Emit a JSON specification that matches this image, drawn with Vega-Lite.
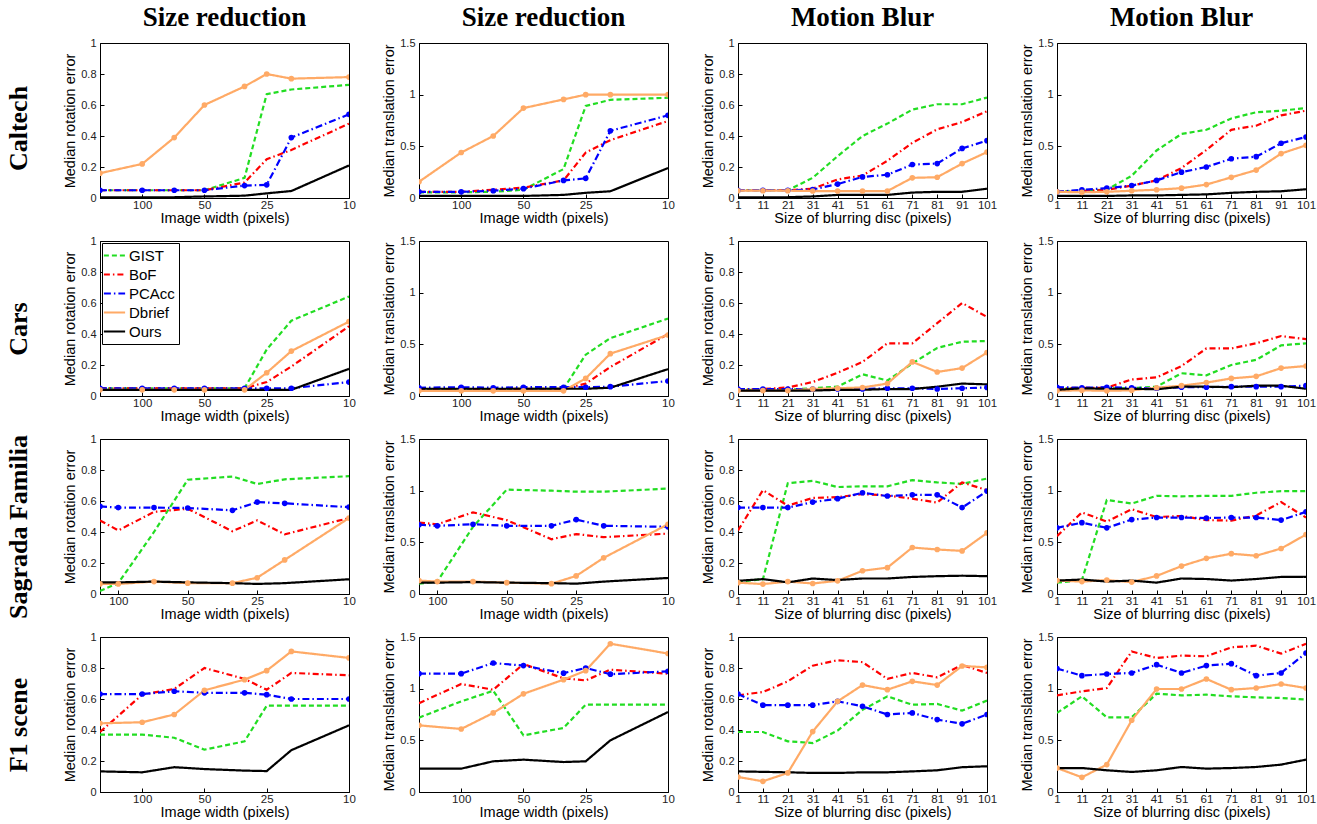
{
"$schema": "https://vega.github.io/schema/vega-lite/v6.json",
"background": "white",
"padding": {"left": 6, "top": 3, "right": 0, "bottom": 0},
"data": {"values": [
{"p":"11","m":"GIST","x":160,"y":0.05},{"p":"11","m":"GIST","x":100,"y":0.05},{"p":"11","m":"GIST","x":70,"y":0.05},{"p":"11","m":"GIST","x":50,"y":0.05},{"p":"11","m":"GIST","x":32,"y":0.13},{"p":"11","m":"GIST","x":25,"y":0.67},{"p":"11","m":"GIST","x":19,"y":0.70},{"p":"11","m":"GIST","x":10,"y":0.73},
{"p":"11","m":"BoF","x":160,"y":0.05},{"p":"11","m":"BoF","x":100,"y":0.05},{"p":"11","m":"BoF","x":70,"y":0.05},{"p":"11","m":"BoF","x":50,"y":0.05},{"p":"11","m":"BoF","x":32,"y":0.10},{"p":"11","m":"BoF","x":25,"y":0.25},{"p":"11","m":"BoF","x":19,"y":0.31},{"p":"11","m":"BoF","x":10,"y":0.48},
{"p":"11","m":"PCAcc","x":160,"y":0.05},{"p":"11","m":"PCAcc","x":100,"y":0.05},{"p":"11","m":"PCAcc","x":70,"y":0.05},{"p":"11","m":"PCAcc","x":50,"y":0.05},{"p":"11","m":"PCAcc","x":32,"y":0.08},{"p":"11","m":"PCAcc","x":25,"y":0.085},{"p":"11","m":"PCAcc","x":19,"y":0.39},{"p":"11","m":"PCAcc","x":10,"y":0.54},
{"p":"11","m":"Dbrief","x":160,"y":0.16},{"p":"11","m":"Dbrief","x":100,"y":0.22},{"p":"11","m":"Dbrief","x":70,"y":0.39},{"p":"11","m":"Dbrief","x":50,"y":0.60},{"p":"11","m":"Dbrief","x":32,"y":0.72},{"p":"11","m":"Dbrief","x":25,"y":0.80},{"p":"11","m":"Dbrief","x":19,"y":0.77},{"p":"11","m":"Dbrief","x":10,"y":0.78},
{"p":"11","m":"Ours","x":160,"y":0.005},{"p":"11","m":"Ours","x":100,"y":0.005},{"p":"11","m":"Ours","x":70,"y":0.005},{"p":"11","m":"Ours","x":50,"y":0.01},{"p":"11","m":"Ours","x":32,"y":0.015},{"p":"11","m":"Ours","x":25,"y":0.03},{"p":"11","m":"Ours","x":19,"y":0.045},{"p":"11","m":"Ours","x":10,"y":0.21},

{"p":"12","m":"GIST","x":160,"y":0.055},{"p":"12","m":"GIST","x":100,"y":0.055},{"p":"12","m":"GIST","x":70,"y":0.06},{"p":"12","m":"GIST","x":50,"y":0.08},{"p":"12","m":"GIST","x":32,"y":0.28},{"p":"12","m":"GIST","x":25,"y":0.89},{"p":"12","m":"GIST","x":19,"y":0.95},{"p":"12","m":"GIST","x":10,"y":0.97},
{"p":"12","m":"BoF","x":160,"y":0.06},{"p":"12","m":"BoF","x":100,"y":0.06},{"p":"12","m":"BoF","x":70,"y":0.08},{"p":"12","m":"BoF","x":50,"y":0.10},{"p":"12","m":"BoF","x":32,"y":0.17},{"p":"12","m":"BoF","x":25,"y":0.44},{"p":"12","m":"BoF","x":19,"y":0.56},{"p":"12","m":"BoF","x":10,"y":0.745},
{"p":"12","m":"PCAcc","x":160,"y":0.06},{"p":"12","m":"PCAcc","x":100,"y":0.06},{"p":"12","m":"PCAcc","x":70,"y":0.07},{"p":"12","m":"PCAcc","x":50,"y":0.09},{"p":"12","m":"PCAcc","x":32,"y":0.17},{"p":"12","m":"PCAcc","x":25,"y":0.19},{"p":"12","m":"PCAcc","x":19,"y":0.65},{"p":"12","m":"PCAcc","x":10,"y":0.80},
{"p":"12","m":"Dbrief","x":160,"y":0.157},{"p":"12","m":"Dbrief","x":100,"y":0.44},{"p":"12","m":"Dbrief","x":70,"y":0.60},{"p":"12","m":"Dbrief","x":50,"y":0.87},{"p":"12","m":"Dbrief","x":32,"y":0.954},{"p":"12","m":"Dbrief","x":25,"y":1.0},{"p":"12","m":"Dbrief","x":19,"y":1.0},{"p":"12","m":"Dbrief","x":10,"y":1.0},
{"p":"12","m":"Ours","x":160,"y":0.02},{"p":"12","m":"Ours","x":100,"y":0.02},{"p":"12","m":"Ours","x":70,"y":0.02},{"p":"12","m":"Ours","x":50,"y":0.02},{"p":"12","m":"Ours","x":32,"y":0.03},{"p":"12","m":"Ours","x":25,"y":0.05},{"p":"12","m":"Ours","x":19,"y":0.065},{"p":"12","m":"Ours","x":10,"y":0.29},

{"p":"13","m":"GIST","x":1,"y":0.05},{"p":"13","m":"GIST","x":11,"y":0.05},{"p":"13","m":"GIST","x":21,"y":0.05},{"p":"13","m":"GIST","x":31,"y":0.13},{"p":"13","m":"GIST","x":41,"y":0.27},{"p":"13","m":"GIST","x":51,"y":0.40},{"p":"13","m":"GIST","x":61,"y":0.48},{"p":"13","m":"GIST","x":71,"y":0.57},{"p":"13","m":"GIST","x":81,"y":0.605},{"p":"13","m":"GIST","x":91,"y":0.605},{"p":"13","m":"GIST","x":101,"y":0.648},
{"p":"13","m":"BoF","x":1,"y":0.05},{"p":"13","m":"BoF","x":11,"y":0.05},{"p":"13","m":"BoF","x":21,"y":0.05},{"p":"13","m":"BoF","x":31,"y":0.06},{"p":"13","m":"BoF","x":41,"y":0.12},{"p":"13","m":"BoF","x":51,"y":0.145},{"p":"13","m":"BoF","x":61,"y":0.24},{"p":"13","m":"BoF","x":71,"y":0.356},{"p":"13","m":"BoF","x":81,"y":0.443},{"p":"13","m":"BoF","x":91,"y":0.49},{"p":"13","m":"BoF","x":101,"y":0.56},
{"p":"13","m":"PCAcc","x":1,"y":0.05},{"p":"13","m":"PCAcc","x":11,"y":0.05},{"p":"13","m":"PCAcc","x":21,"y":0.05},{"p":"13","m":"PCAcc","x":31,"y":0.055},{"p":"13","m":"PCAcc","x":41,"y":0.09},{"p":"13","m":"PCAcc","x":51,"y":0.136},{"p":"13","m":"PCAcc","x":61,"y":0.15},{"p":"13","m":"PCAcc","x":71,"y":0.216},{"p":"13","m":"PCAcc","x":81,"y":0.222},{"p":"13","m":"PCAcc","x":91,"y":0.32},{"p":"13","m":"PCAcc","x":101,"y":0.37},
{"p":"13","m":"Dbrief","x":1,"y":0.047},{"p":"13","m":"Dbrief","x":11,"y":0.047},{"p":"13","m":"Dbrief","x":21,"y":0.047},{"p":"13","m":"Dbrief","x":31,"y":0.045},{"p":"13","m":"Dbrief","x":41,"y":0.045},{"p":"13","m":"Dbrief","x":51,"y":0.045},{"p":"13","m":"Dbrief","x":61,"y":0.045},{"p":"13","m":"Dbrief","x":71,"y":0.13},{"p":"13","m":"Dbrief","x":81,"y":0.134},{"p":"13","m":"Dbrief","x":91,"y":0.222},{"p":"13","m":"Dbrief","x":101,"y":0.296},
{"p":"13","m":"Ours","x":1,"y":0.005},{"p":"13","m":"Ours","x":11,"y":0.005},{"p":"13","m":"Ours","x":21,"y":0.005},{"p":"13","m":"Ours","x":31,"y":0.01},{"p":"13","m":"Ours","x":41,"y":0.02},{"p":"13","m":"Ours","x":51,"y":0.02},{"p":"13","m":"Ours","x":61,"y":0.02},{"p":"13","m":"Ours","x":71,"y":0.035},{"p":"13","m":"Ours","x":81,"y":0.04},{"p":"13","m":"Ours","x":91,"y":0.04},{"p":"13","m":"Ours","x":101,"y":0.06},

{"p":"14","m":"GIST","x":1,"y":0.06},{"p":"14","m":"GIST","x":11,"y":0.07},{"p":"14","m":"GIST","x":21,"y":0.08},{"p":"14","m":"GIST","x":31,"y":0.215},{"p":"14","m":"GIST","x":41,"y":0.46},{"p":"14","m":"GIST","x":51,"y":0.62},{"p":"14","m":"GIST","x":61,"y":0.66},{"p":"14","m":"GIST","x":71,"y":0.77},{"p":"14","m":"GIST","x":81,"y":0.83},{"p":"14","m":"GIST","x":91,"y":0.845},{"p":"14","m":"GIST","x":101,"y":0.87},
{"p":"14","m":"BoF","x":1,"y":0.06},{"p":"14","m":"BoF","x":11,"y":0.065},{"p":"14","m":"BoF","x":21,"y":0.08},{"p":"14","m":"BoF","x":31,"y":0.12},{"p":"14","m":"BoF","x":41,"y":0.17},{"p":"14","m":"BoF","x":51,"y":0.29},{"p":"14","m":"BoF","x":61,"y":0.465},{"p":"14","m":"BoF","x":71,"y":0.66},{"p":"14","m":"BoF","x":81,"y":0.70},{"p":"14","m":"BoF","x":91,"y":0.80},{"p":"14","m":"BoF","x":101,"y":0.845},
{"p":"14","m":"PCAcc","x":1,"y":0.06},{"p":"14","m":"PCAcc","x":11,"y":0.08},{"p":"14","m":"PCAcc","x":21,"y":0.095},{"p":"14","m":"PCAcc","x":31,"y":0.12},{"p":"14","m":"PCAcc","x":41,"y":0.17},{"p":"14","m":"PCAcc","x":51,"y":0.25},{"p":"14","m":"PCAcc","x":61,"y":0.30},{"p":"14","m":"PCAcc","x":71,"y":0.38},{"p":"14","m":"PCAcc","x":81,"y":0.40},{"p":"14","m":"PCAcc","x":91,"y":0.53},{"p":"14","m":"PCAcc","x":101,"y":0.59},
{"p":"14","m":"Dbrief","x":1,"y":0.06},{"p":"14","m":"Dbrief","x":11,"y":0.055},{"p":"14","m":"Dbrief","x":21,"y":0.06},{"p":"14","m":"Dbrief","x":31,"y":0.07},{"p":"14","m":"Dbrief","x":41,"y":0.08},{"p":"14","m":"Dbrief","x":51,"y":0.095},{"p":"14","m":"Dbrief","x":61,"y":0.13},{"p":"14","m":"Dbrief","x":71,"y":0.20},{"p":"14","m":"Dbrief","x":81,"y":0.27},{"p":"14","m":"Dbrief","x":91,"y":0.43},{"p":"14","m":"Dbrief","x":101,"y":0.51},
{"p":"14","m":"Ours","x":1,"y":0.02},{"p":"14","m":"Ours","x":11,"y":0.02},{"p":"14","m":"Ours","x":21,"y":0.02},{"p":"14","m":"Ours","x":31,"y":0.025},{"p":"14","m":"Ours","x":41,"y":0.025},{"p":"14","m":"Ours","x":51,"y":0.03},{"p":"14","m":"Ours","x":61,"y":0.035},{"p":"14","m":"Ours","x":71,"y":0.05},{"p":"14","m":"Ours","x":81,"y":0.06},{"p":"14","m":"Ours","x":91,"y":0.065},{"p":"14","m":"Ours","x":101,"y":0.085},

{"p":"21","m":"GIST","x":160,"y":0.05},{"p":"21","m":"GIST","x":100,"y":0.05},{"p":"21","m":"GIST","x":70,"y":0.05},{"p":"21","m":"GIST","x":50,"y":0.05},{"p":"21","m":"GIST","x":32,"y":0.05},{"p":"21","m":"GIST","x":25,"y":0.30},{"p":"21","m":"GIST","x":19,"y":0.486},{"p":"21","m":"GIST","x":10,"y":0.642},
{"p":"21","m":"BoF","x":160,"y":0.05},{"p":"21","m":"BoF","x":100,"y":0.05},{"p":"21","m":"BoF","x":70,"y":0.05},{"p":"21","m":"BoF","x":50,"y":0.05},{"p":"21","m":"BoF","x":32,"y":0.05},{"p":"21","m":"BoF","x":25,"y":0.09},{"p":"21","m":"BoF","x":19,"y":0.19},{"p":"21","m":"BoF","x":10,"y":0.45},
{"p":"21","m":"PCAcc","x":160,"y":0.05},{"p":"21","m":"PCAcc","x":100,"y":0.05},{"p":"21","m":"PCAcc","x":70,"y":0.05},{"p":"21","m":"PCAcc","x":50,"y":0.05},{"p":"21","m":"PCAcc","x":32,"y":0.05},{"p":"21","m":"PCAcc","x":25,"y":0.05},{"p":"21","m":"PCAcc","x":19,"y":0.05},{"p":"21","m":"PCAcc","x":10,"y":0.09},
{"p":"21","m":"Dbrief","x":160,"y":0.04},{"p":"21","m":"Dbrief","x":100,"y":0.04},{"p":"21","m":"Dbrief","x":70,"y":0.04},{"p":"21","m":"Dbrief","x":50,"y":0.04},{"p":"21","m":"Dbrief","x":32,"y":0.04},{"p":"21","m":"Dbrief","x":25,"y":0.15},{"p":"21","m":"Dbrief","x":19,"y":0.29},{"p":"21","m":"Dbrief","x":10,"y":0.48},
{"p":"21","m":"Ours","x":160,"y":0.04},{"p":"21","m":"Ours","x":100,"y":0.04},{"p":"21","m":"Ours","x":70,"y":0.04},{"p":"21","m":"Ours","x":50,"y":0.04},{"p":"21","m":"Ours","x":32,"y":0.04},{"p":"21","m":"Ours","x":25,"y":0.04},{"p":"21","m":"Ours","x":19,"y":0.04},{"p":"21","m":"Ours","x":10,"y":0.175},

{"p":"22","m":"GIST","x":160,"y":0.06},{"p":"22","m":"GIST","x":100,"y":0.065},{"p":"22","m":"GIST","x":70,"y":0.065},{"p":"22","m":"GIST","x":50,"y":0.07},{"p":"22","m":"GIST","x":32,"y":0.07},{"p":"22","m":"GIST","x":25,"y":0.40},{"p":"22","m":"GIST","x":19,"y":0.56},{"p":"22","m":"GIST","x":10,"y":0.75},
{"p":"22","m":"BoF","x":160,"y":0.06},{"p":"22","m":"BoF","x":100,"y":0.06},{"p":"22","m":"BoF","x":70,"y":0.065},{"p":"22","m":"BoF","x":50,"y":0.07},{"p":"22","m":"BoF","x":32,"y":0.07},{"p":"22","m":"BoF","x":25,"y":0.12},{"p":"22","m":"BoF","x":19,"y":0.28},{"p":"22","m":"BoF","x":10,"y":0.60},
{"p":"22","m":"PCAcc","x":160,"y":0.08},{"p":"22","m":"PCAcc","x":100,"y":0.085},{"p":"22","m":"PCAcc","x":70,"y":0.08},{"p":"22","m":"PCAcc","x":50,"y":0.085},{"p":"22","m":"PCAcc","x":32,"y":0.085},{"p":"22","m":"PCAcc","x":25,"y":0.085},{"p":"22","m":"PCAcc","x":19,"y":0.09},{"p":"22","m":"PCAcc","x":10,"y":0.145},
{"p":"22","m":"Dbrief","x":160,"y":0.05},{"p":"22","m":"Dbrief","x":100,"y":0.05},{"p":"22","m":"Dbrief","x":70,"y":0.05},{"p":"22","m":"Dbrief","x":50,"y":0.05},{"p":"22","m":"Dbrief","x":32,"y":0.05},{"p":"22","m":"Dbrief","x":25,"y":0.17},{"p":"22","m":"Dbrief","x":19,"y":0.41},{"p":"22","m":"Dbrief","x":10,"y":0.59},
{"p":"22","m":"Ours","x":160,"y":0.07},{"p":"22","m":"Ours","x":100,"y":0.07},{"p":"22","m":"Ours","x":70,"y":0.07},{"p":"22","m":"Ours","x":50,"y":0.07},{"p":"22","m":"Ours","x":32,"y":0.07},{"p":"22","m":"Ours","x":25,"y":0.07},{"p":"22","m":"Ours","x":19,"y":0.08},{"p":"22","m":"Ours","x":10,"y":0.26},

{"p":"23","m":"GIST","x":1,"y":0.04},{"p":"23","m":"GIST","x":11,"y":0.04},{"p":"23","m":"GIST","x":21,"y":0.04},{"p":"23","m":"GIST","x":31,"y":0.05},{"p":"23","m":"GIST","x":41,"y":0.06},{"p":"23","m":"GIST","x":51,"y":0.14},{"p":"23","m":"GIST","x":61,"y":0.10},{"p":"23","m":"GIST","x":71,"y":0.21},{"p":"23","m":"GIST","x":81,"y":0.31},{"p":"23","m":"GIST","x":91,"y":0.35},{"p":"23","m":"GIST","x":101,"y":0.355},
{"p":"23","m":"BoF","x":1,"y":0.04},{"p":"23","m":"BoF","x":11,"y":0.045},{"p":"23","m":"BoF","x":21,"y":0.055},{"p":"23","m":"BoF","x":31,"y":0.09},{"p":"23","m":"BoF","x":41,"y":0.15},{"p":"23","m":"BoF","x":51,"y":0.22},{"p":"23","m":"BoF","x":61,"y":0.34},{"p":"23","m":"BoF","x":71,"y":0.34},{"p":"23","m":"BoF","x":81,"y":0.47},{"p":"23","m":"BoF","x":91,"y":0.60},{"p":"23","m":"BoF","x":101,"y":0.51},
{"p":"23","m":"PCAcc","x":1,"y":0.045},{"p":"23","m":"PCAcc","x":11,"y":0.045},{"p":"23","m":"PCAcc","x":21,"y":0.045},{"p":"23","m":"PCAcc","x":31,"y":0.045},{"p":"23","m":"PCAcc","x":41,"y":0.045},{"p":"23","m":"PCAcc","x":51,"y":0.045},{"p":"23","m":"PCAcc","x":61,"y":0.05},{"p":"23","m":"PCAcc","x":71,"y":0.05},{"p":"23","m":"PCAcc","x":81,"y":0.045},{"p":"23","m":"PCAcc","x":91,"y":0.05},{"p":"23","m":"PCAcc","x":101,"y":0.055},
{"p":"23","m":"Dbrief","x":1,"y":0.035},{"p":"23","m":"Dbrief","x":11,"y":0.035},{"p":"23","m":"Dbrief","x":21,"y":0.035},{"p":"23","m":"Dbrief","x":31,"y":0.045},{"p":"23","m":"Dbrief","x":41,"y":0.05},{"p":"23","m":"Dbrief","x":51,"y":0.055},{"p":"23","m":"Dbrief","x":61,"y":0.08},{"p":"23","m":"Dbrief","x":71,"y":0.22},{"p":"23","m":"Dbrief","x":81,"y":0.155},{"p":"23","m":"Dbrief","x":91,"y":0.18},{"p":"23","m":"Dbrief","x":101,"y":0.28},
{"p":"23","m":"Ours","x":1,"y":0.035},{"p":"23","m":"Ours","x":11,"y":0.035},{"p":"23","m":"Ours","x":21,"y":0.035},{"p":"23","m":"Ours","x":31,"y":0.035},{"p":"23","m":"Ours","x":41,"y":0.04},{"p":"23","m":"Ours","x":51,"y":0.04},{"p":"23","m":"Ours","x":61,"y":0.045},{"p":"23","m":"Ours","x":71,"y":0.045},{"p":"23","m":"Ours","x":81,"y":0.06},{"p":"23","m":"Ours","x":91,"y":0.08},{"p":"23","m":"Ours","x":101,"y":0.075},

{"p":"24","m":"GIST","x":1,"y":0.07},{"p":"24","m":"GIST","x":11,"y":0.075},{"p":"24","m":"GIST","x":21,"y":0.075},{"p":"24","m":"GIST","x":31,"y":0.075},{"p":"24","m":"GIST","x":41,"y":0.09},{"p":"24","m":"GIST","x":51,"y":0.22},{"p":"24","m":"GIST","x":61,"y":0.20},{"p":"24","m":"GIST","x":71,"y":0.30},{"p":"24","m":"GIST","x":81,"y":0.35},{"p":"24","m":"GIST","x":91,"y":0.49},{"p":"24","m":"GIST","x":101,"y":0.51},
{"p":"24","m":"BoF","x":1,"y":0.07},{"p":"24","m":"BoF","x":11,"y":0.08},{"p":"24","m":"BoF","x":21,"y":0.08},{"p":"24","m":"BoF","x":31,"y":0.16},{"p":"24","m":"BoF","x":41,"y":0.18},{"p":"24","m":"BoF","x":51,"y":0.29},{"p":"24","m":"BoF","x":61,"y":0.46},{"p":"24","m":"BoF","x":71,"y":0.46},{"p":"24","m":"BoF","x":81,"y":0.51},{"p":"24","m":"BoF","x":91,"y":0.58},{"p":"24","m":"BoF","x":101,"y":0.55},
{"p":"24","m":"PCAcc","x":1,"y":0.085},{"p":"24","m":"PCAcc","x":11,"y":0.08},{"p":"24","m":"PCAcc","x":21,"y":0.085},{"p":"24","m":"PCAcc","x":31,"y":0.08},{"p":"24","m":"PCAcc","x":41,"y":0.075},{"p":"24","m":"PCAcc","x":51,"y":0.085},{"p":"24","m":"PCAcc","x":61,"y":0.085},{"p":"24","m":"PCAcc","x":71,"y":0.09},{"p":"24","m":"PCAcc","x":81,"y":0.09},{"p":"24","m":"PCAcc","x":91,"y":0.09},{"p":"24","m":"PCAcc","x":101,"y":0.10},
{"p":"24","m":"Dbrief","x":1,"y":0.05},{"p":"24","m":"Dbrief","x":11,"y":0.055},{"p":"24","m":"Dbrief","x":21,"y":0.05},{"p":"24","m":"Dbrief","x":31,"y":0.055},{"p":"24","m":"Dbrief","x":41,"y":0.08},{"p":"24","m":"Dbrief","x":51,"y":0.10},{"p":"24","m":"Dbrief","x":61,"y":0.13},{"p":"24","m":"Dbrief","x":71,"y":0.17},{"p":"24","m":"Dbrief","x":81,"y":0.19},{"p":"24","m":"Dbrief","x":91,"y":0.27},{"p":"24","m":"Dbrief","x":101,"y":0.29},
{"p":"24","m":"Ours","x":1,"y":0.06},{"p":"24","m":"Ours","x":11,"y":0.075},{"p":"24","m":"Ours","x":21,"y":0.07},{"p":"24","m":"Ours","x":31,"y":0.07},{"p":"24","m":"Ours","x":41,"y":0.065},{"p":"24","m":"Ours","x":51,"y":0.09},{"p":"24","m":"Ours","x":61,"y":0.09},{"p":"24","m":"Ours","x":71,"y":0.085},{"p":"24","m":"Ours","x":81,"y":0.10},{"p":"24","m":"Ours","x":91,"y":0.10},{"p":"24","m":"Ours","x":101,"y":0.07},

{"p":"31","m":"GIST","x":120,"y":0.02},{"p":"31","m":"GIST","x":100,"y":0.07},{"p":"31","m":"GIST","x":70,"y":0.40},{"p":"31","m":"GIST","x":50,"y":0.737},{"p":"31","m":"GIST","x":32,"y":0.758},{"p":"31","m":"GIST","x":25,"y":0.71},{"p":"31","m":"GIST","x":19,"y":0.74},{"p":"31","m":"GIST","x":10,"y":0.76},
{"p":"31","m":"BoF","x":120,"y":0.475},{"p":"31","m":"BoF","x":100,"y":0.41},{"p":"31","m":"BoF","x":70,"y":0.53},{"p":"31","m":"BoF","x":50,"y":0.55},{"p":"31","m":"BoF","x":32,"y":0.405},{"p":"31","m":"BoF","x":25,"y":0.475},{"p":"31","m":"BoF","x":19,"y":0.385},{"p":"31","m":"BoF","x":10,"y":0.49},
{"p":"31","m":"PCAcc","x":120,"y":0.565},{"p":"31","m":"PCAcc","x":100,"y":0.557},{"p":"31","m":"PCAcc","x":70,"y":0.557},{"p":"31","m":"PCAcc","x":50,"y":0.555},{"p":"31","m":"PCAcc","x":32,"y":0.54},{"p":"31","m":"PCAcc","x":25,"y":0.593},{"p":"31","m":"PCAcc","x":19,"y":0.585},{"p":"31","m":"PCAcc","x":10,"y":0.56},
{"p":"31","m":"Dbrief","x":120,"y":0.065},{"p":"31","m":"Dbrief","x":100,"y":0.065},{"p":"31","m":"Dbrief","x":70,"y":0.08},{"p":"31","m":"Dbrief","x":50,"y":0.07},{"p":"31","m":"Dbrief","x":32,"y":0.07},{"p":"31","m":"Dbrief","x":25,"y":0.105},{"p":"31","m":"Dbrief","x":19,"y":0.22},{"p":"31","m":"Dbrief","x":10,"y":0.49},
{"p":"31","m":"Ours","x":120,"y":0.075},{"p":"31","m":"Ours","x":100,"y":0.075},{"p":"31","m":"Ours","x":70,"y":0.08},{"p":"31","m":"Ours","x":50,"y":0.075},{"p":"31","m":"Ours","x":32,"y":0.07},{"p":"31","m":"Ours","x":25,"y":0.065},{"p":"31","m":"Ours","x":19,"y":0.07},{"p":"31","m":"Ours","x":10,"y":0.095},

{"p":"32","m":"GIST","x":120,"y":0.10},{"p":"32","m":"GIST","x":100,"y":0.12},{"p":"32","m":"GIST","x":70,"y":0.65},{"p":"32","m":"GIST","x":50,"y":1.01},{"p":"32","m":"GIST","x":32,"y":1.0},{"p":"32","m":"GIST","x":25,"y":0.99},{"p":"32","m":"GIST","x":19,"y":0.99},{"p":"32","m":"GIST","x":10,"y":1.02},
{"p":"32","m":"BoF","x":120,"y":0.69},{"p":"32","m":"BoF","x":100,"y":0.675},{"p":"32","m":"BoF","x":70,"y":0.79},{"p":"32","m":"BoF","x":50,"y":0.715},{"p":"32","m":"BoF","x":32,"y":0.53},{"p":"32","m":"BoF","x":25,"y":0.58},{"p":"32","m":"BoF","x":19,"y":0.55},{"p":"32","m":"BoF","x":10,"y":0.585},
{"p":"32","m":"PCAcc","x":120,"y":0.67},{"p":"32","m":"PCAcc","x":100,"y":0.66},{"p":"32","m":"PCAcc","x":70,"y":0.675},{"p":"32","m":"PCAcc","x":50,"y":0.66},{"p":"32","m":"PCAcc","x":32,"y":0.66},{"p":"32","m":"PCAcc","x":25,"y":0.72},{"p":"32","m":"PCAcc","x":19,"y":0.66},{"p":"32","m":"PCAcc","x":10,"y":0.65},
{"p":"32","m":"Dbrief","x":120,"y":0.13},{"p":"32","m":"Dbrief","x":100,"y":0.12},{"p":"32","m":"Dbrief","x":70,"y":0.12},{"p":"32","m":"Dbrief","x":50,"y":0.11},{"p":"32","m":"Dbrief","x":32,"y":0.10},{"p":"32","m":"Dbrief","x":25,"y":0.175},{"p":"32","m":"Dbrief","x":19,"y":0.35},{"p":"32","m":"Dbrief","x":10,"y":0.675},
{"p":"32","m":"Ours","x":120,"y":0.11},{"p":"32","m":"Ours","x":100,"y":0.11},{"p":"32","m":"Ours","x":70,"y":0.115},{"p":"32","m":"Ours","x":50,"y":0.11},{"p":"32","m":"Ours","x":32,"y":0.105},{"p":"32","m":"Ours","x":25,"y":0.10},{"p":"32","m":"Ours","x":19,"y":0.12},{"p":"32","m":"Ours","x":10,"y":0.155},

{"p":"33","m":"GIST","x":1,"y":0.08},{"p":"33","m":"GIST","x":11,"y":0.095},{"p":"33","m":"GIST","x":21,"y":0.715},{"p":"33","m":"GIST","x":31,"y":0.73},{"p":"33","m":"GIST","x":41,"y":0.69},{"p":"33","m":"GIST","x":51,"y":0.695},{"p":"33","m":"GIST","x":61,"y":0.695},{"p":"33","m":"GIST","x":71,"y":0.735},{"p":"33","m":"GIST","x":81,"y":0.72},{"p":"33","m":"GIST","x":91,"y":0.71},{"p":"33","m":"GIST","x":101,"y":0.745},
{"p":"33","m":"BoF","x":1,"y":0.41},{"p":"33","m":"BoF","x":11,"y":0.67},{"p":"33","m":"BoF","x":21,"y":0.57},{"p":"33","m":"BoF","x":31,"y":0.62},{"p":"33","m":"BoF","x":41,"y":0.625},{"p":"33","m":"BoF","x":51,"y":0.645},{"p":"33","m":"BoF","x":61,"y":0.635},{"p":"33","m":"BoF","x":71,"y":0.615},{"p":"33","m":"BoF","x":81,"y":0.59},{"p":"33","m":"BoF","x":91,"y":0.72},{"p":"33","m":"BoF","x":101,"y":0.67},
{"p":"33","m":"PCAcc","x":1,"y":0.557},{"p":"33","m":"PCAcc","x":11,"y":0.557},{"p":"33","m":"PCAcc","x":21,"y":0.557},{"p":"33","m":"PCAcc","x":31,"y":0.593},{"p":"33","m":"PCAcc","x":41,"y":0.615},{"p":"33","m":"PCAcc","x":51,"y":0.653},{"p":"33","m":"PCAcc","x":61,"y":0.632},{"p":"33","m":"PCAcc","x":71,"y":0.64},{"p":"33","m":"PCAcc","x":81,"y":0.64},{"p":"33","m":"PCAcc","x":91,"y":0.557},{"p":"33","m":"PCAcc","x":101,"y":0.664},
{"p":"33","m":"Dbrief","x":1,"y":0.073},{"p":"33","m":"Dbrief","x":11,"y":0.064},{"p":"33","m":"Dbrief","x":21,"y":0.08},{"p":"33","m":"Dbrief","x":31,"y":0.068},{"p":"33","m":"Dbrief","x":41,"y":0.085},{"p":"33","m":"Dbrief","x":51,"y":0.15},{"p":"33","m":"Dbrief","x":61,"y":0.17},{"p":"33","m":"Dbrief","x":71,"y":0.30},{"p":"33","m":"Dbrief","x":81,"y":0.287},{"p":"33","m":"Dbrief","x":91,"y":0.278},{"p":"33","m":"Dbrief","x":101,"y":0.394},
{"p":"33","m":"Ours","x":1,"y":0.085},{"p":"33","m":"Ours","x":11,"y":0.096},{"p":"33","m":"Ours","x":21,"y":0.075},{"p":"33","m":"Ours","x":31,"y":0.10},{"p":"33","m":"Ours","x":41,"y":0.09},{"p":"33","m":"Ours","x":51,"y":0.10},{"p":"33","m":"Ours","x":61,"y":0.10},{"p":"33","m":"Ours","x":71,"y":0.11},{"p":"33","m":"Ours","x":81,"y":0.115},{"p":"33","m":"Ours","x":91,"y":0.118},{"p":"33","m":"Ours","x":101,"y":0.115},

{"p":"34","m":"GIST","x":1,"y":0.11},{"p":"34","m":"GIST","x":11,"y":0.135},{"p":"34","m":"GIST","x":21,"y":0.91},{"p":"34","m":"GIST","x":31,"y":0.875},{"p":"34","m":"GIST","x":41,"y":0.95},{"p":"34","m":"GIST","x":51,"y":0.945},{"p":"34","m":"GIST","x":61,"y":0.95},{"p":"34","m":"GIST","x":71,"y":0.95},{"p":"34","m":"GIST","x":81,"y":0.98},{"p":"34","m":"GIST","x":91,"y":0.995},{"p":"34","m":"GIST","x":101,"y":0.995},
{"p":"34","m":"BoF","x":1,"y":0.56},{"p":"34","m":"BoF","x":11,"y":0.79},{"p":"34","m":"BoF","x":21,"y":0.70},{"p":"34","m":"BoF","x":31,"y":0.82},{"p":"34","m":"BoF","x":41,"y":0.745},{"p":"34","m":"BoF","x":51,"y":0.755},{"p":"34","m":"BoF","x":61,"y":0.715},{"p":"34","m":"BoF","x":71,"y":0.71},{"p":"34","m":"BoF","x":81,"y":0.76},{"p":"34","m":"BoF","x":91,"y":0.89},{"p":"34","m":"BoF","x":101,"y":0.74},
{"p":"34","m":"PCAcc","x":1,"y":0.64},{"p":"34","m":"PCAcc","x":11,"y":0.69},{"p":"34","m":"PCAcc","x":21,"y":0.64},{"p":"34","m":"PCAcc","x":31,"y":0.72},{"p":"34","m":"PCAcc","x":41,"y":0.74},{"p":"34","m":"PCAcc","x":51,"y":0.74},{"p":"34","m":"PCAcc","x":61,"y":0.735},{"p":"34","m":"PCAcc","x":71,"y":0.74},{"p":"34","m":"PCAcc","x":81,"y":0.74},{"p":"34","m":"PCAcc","x":91,"y":0.715},{"p":"34","m":"PCAcc","x":101,"y":0.795},
{"p":"34","m":"Dbrief","x":1,"y":0.13},{"p":"34","m":"Dbrief","x":11,"y":0.12},{"p":"34","m":"Dbrief","x":21,"y":0.135},{"p":"34","m":"Dbrief","x":31,"y":0.115},{"p":"34","m":"Dbrief","x":41,"y":0.175},{"p":"34","m":"Dbrief","x":51,"y":0.27},{"p":"34","m":"Dbrief","x":61,"y":0.345},{"p":"34","m":"Dbrief","x":71,"y":0.39},{"p":"34","m":"Dbrief","x":81,"y":0.37},{"p":"34","m":"Dbrief","x":91,"y":0.44},{"p":"34","m":"Dbrief","x":101,"y":0.575},
{"p":"34","m":"Ours","x":1,"y":0.13},{"p":"34","m":"Ours","x":11,"y":0.14},{"p":"34","m":"Ours","x":21,"y":0.12},{"p":"34","m":"Ours","x":31,"y":0.13},{"p":"34","m":"Ours","x":41,"y":0.11},{"p":"34","m":"Ours","x":51,"y":0.15},{"p":"34","m":"Ours","x":61,"y":0.145},{"p":"34","m":"Ours","x":71,"y":0.13},{"p":"34","m":"Ours","x":81,"y":0.145},{"p":"34","m":"Ours","x":91,"y":0.165},{"p":"34","m":"Ours","x":101,"y":0.165},

{"p":"41","m":"GIST","x":160,"y":0.37},{"p":"41","m":"GIST","x":100,"y":0.37},{"p":"41","m":"GIST","x":70,"y":0.35},{"p":"41","m":"GIST","x":50,"y":0.273},{"p":"41","m":"GIST","x":32,"y":0.327},{"p":"41","m":"GIST","x":25,"y":0.557},{"p":"41","m":"GIST","x":19,"y":0.557},{"p":"41","m":"GIST","x":10,"y":0.557},
{"p":"41","m":"BoF","x":160,"y":0.387},{"p":"41","m":"BoF","x":100,"y":0.628},{"p":"41","m":"BoF","x":70,"y":0.665},{"p":"41","m":"BoF","x":50,"y":0.80},{"p":"41","m":"BoF","x":32,"y":0.73},{"p":"41","m":"BoF","x":25,"y":0.66},{"p":"41","m":"BoF","x":19,"y":0.768},{"p":"41","m":"BoF","x":10,"y":0.753},
{"p":"41","m":"PCAcc","x":160,"y":0.632},{"p":"41","m":"PCAcc","x":100,"y":0.632},{"p":"41","m":"PCAcc","x":70,"y":0.65},{"p":"41","m":"PCAcc","x":50,"y":0.64},{"p":"41","m":"PCAcc","x":32,"y":0.64},{"p":"41","m":"PCAcc","x":25,"y":0.628},{"p":"41","m":"PCAcc","x":19,"y":0.60},{"p":"41","m":"PCAcc","x":10,"y":0.60},
{"p":"41","m":"Dbrief","x":160,"y":0.443},{"p":"41","m":"Dbrief","x":100,"y":0.45},{"p":"41","m":"Dbrief","x":70,"y":0.50},{"p":"41","m":"Dbrief","x":50,"y":0.656},{"p":"41","m":"Dbrief","x":32,"y":0.725},{"p":"41","m":"Dbrief","x":25,"y":0.783},{"p":"41","m":"Dbrief","x":19,"y":0.907},{"p":"41","m":"Dbrief","x":10,"y":0.865},
{"p":"41","m":"Ours","x":160,"y":0.133},{"p":"41","m":"Ours","x":100,"y":0.127},{"p":"41","m":"Ours","x":70,"y":0.16},{"p":"41","m":"Ours","x":50,"y":0.148},{"p":"41","m":"Ours","x":32,"y":0.138},{"p":"41","m":"Ours","x":25,"y":0.135},{"p":"41","m":"Ours","x":19,"y":0.27},{"p":"41","m":"Ours","x":10,"y":0.43},

{"p":"42","m":"GIST","x":160,"y":0.72},{"p":"42","m":"GIST","x":100,"y":0.877},{"p":"42","m":"GIST","x":70,"y":0.98},{"p":"42","m":"GIST","x":50,"y":0.548},{"p":"42","m":"GIST","x":32,"y":0.62},{"p":"42","m":"GIST","x":25,"y":0.845},{"p":"42","m":"GIST","x":19,"y":0.845},{"p":"42","m":"GIST","x":10,"y":0.845},
{"p":"42","m":"BoF","x":160,"y":0.86},{"p":"42","m":"BoF","x":100,"y":1.045},{"p":"42","m":"BoF","x":70,"y":0.99},{"p":"42","m":"BoF","x":50,"y":1.238},{"p":"42","m":"BoF","x":32,"y":1.10},{"p":"42","m":"BoF","x":25,"y":1.08},{"p":"42","m":"BoF","x":19,"y":1.184},{"p":"42","m":"BoF","x":10,"y":1.145},
{"p":"42","m":"PCAcc","x":160,"y":1.145},{"p":"42","m":"PCAcc","x":100,"y":1.145},{"p":"42","m":"PCAcc","x":70,"y":1.248},{"p":"42","m":"PCAcc","x":50,"y":1.223},{"p":"42","m":"PCAcc","x":32,"y":1.15},{"p":"42","m":"PCAcc","x":25,"y":1.20},{"p":"42","m":"PCAcc","x":19,"y":1.14},{"p":"42","m":"PCAcc","x":10,"y":1.168},
{"p":"42","m":"Dbrief","x":160,"y":0.645},{"p":"42","m":"Dbrief","x":100,"y":0.61},{"p":"42","m":"Dbrief","x":70,"y":0.765},{"p":"42","m":"Dbrief","x":50,"y":0.95},{"p":"42","m":"Dbrief","x":32,"y":1.087},{"p":"42","m":"Dbrief","x":25,"y":1.174},{"p":"42","m":"Dbrief","x":19,"y":1.435},{"p":"42","m":"Dbrief","x":10,"y":1.34},
{"p":"42","m":"Ours","x":160,"y":0.226},{"p":"42","m":"Ours","x":100,"y":0.226},{"p":"42","m":"Ours","x":70,"y":0.297},{"p":"42","m":"Ours","x":50,"y":0.313},{"p":"42","m":"Ours","x":32,"y":0.29},{"p":"42","m":"Ours","x":25,"y":0.297},{"p":"42","m":"Ours","x":19,"y":0.50},{"p":"42","m":"Ours","x":10,"y":0.774},

{"p":"43","m":"GIST","x":1,"y":0.387},{"p":"43","m":"GIST","x":11,"y":0.387},{"p":"43","m":"GIST","x":21,"y":0.327},{"p":"43","m":"GIST","x":31,"y":0.316},{"p":"43","m":"GIST","x":41,"y":0.396},{"p":"43","m":"GIST","x":51,"y":0.53},{"p":"43","m":"GIST","x":61,"y":0.617},{"p":"43","m":"GIST","x":71,"y":0.563},{"p":"43","m":"GIST","x":81,"y":0.568},{"p":"43","m":"GIST","x":91,"y":0.525},{"p":"43","m":"GIST","x":101,"y":0.59},
{"p":"43","m":"BoF","x":1,"y":0.624},{"p":"43","m":"BoF","x":11,"y":0.645},{"p":"43","m":"BoF","x":21,"y":0.714},{"p":"43","m":"BoF","x":31,"y":0.815},{"p":"43","m":"BoF","x":41,"y":0.85},{"p":"43","m":"BoF","x":51,"y":0.838},{"p":"43","m":"BoF","x":61,"y":0.73},{"p":"43","m":"BoF","x":71,"y":0.768},{"p":"43","m":"BoF","x":81,"y":0.74},{"p":"43","m":"BoF","x":91,"y":0.82},{"p":"43","m":"BoF","x":101,"y":0.768},
{"p":"43","m":"PCAcc","x":1,"y":0.632},{"p":"43","m":"PCAcc","x":11,"y":0.56},{"p":"43","m":"PCAcc","x":21,"y":0.56},{"p":"43","m":"PCAcc","x":31,"y":0.56},{"p":"43","m":"PCAcc","x":41,"y":0.585},{"p":"43","m":"PCAcc","x":51,"y":0.553},{"p":"43","m":"PCAcc","x":61,"y":0.50},{"p":"43","m":"PCAcc","x":71,"y":0.51},{"p":"43","m":"PCAcc","x":81,"y":0.467},{"p":"43","m":"PCAcc","x":91,"y":0.44},{"p":"43","m":"PCAcc","x":101,"y":0.50},
{"p":"43","m":"Dbrief","x":1,"y":0.097},{"p":"43","m":"Dbrief","x":11,"y":0.069},{"p":"43","m":"Dbrief","x":21,"y":0.123},{"p":"43","m":"Dbrief","x":31,"y":0.39},{"p":"43","m":"Dbrief","x":41,"y":0.585},{"p":"43","m":"Dbrief","x":51,"y":0.69},{"p":"43","m":"Dbrief","x":61,"y":0.66},{"p":"43","m":"Dbrief","x":71,"y":0.714},{"p":"43","m":"Dbrief","x":81,"y":0.69},{"p":"43","m":"Dbrief","x":91,"y":0.813},{"p":"43","m":"Dbrief","x":101,"y":0.804},
{"p":"43","m":"Ours","x":1,"y":0.133},{"p":"43","m":"Ours","x":11,"y":0.13},{"p":"43","m":"Ours","x":21,"y":0.127},{"p":"43","m":"Ours","x":31,"y":0.123},{"p":"43","m":"Ours","x":41,"y":0.123},{"p":"43","m":"Ours","x":51,"y":0.127},{"p":"43","m":"Ours","x":61,"y":0.127},{"p":"43","m":"Ours","x":71,"y":0.133},{"p":"43","m":"Ours","x":81,"y":0.14},{"p":"43","m":"Ours","x":91,"y":0.16},{"p":"43","m":"Ours","x":101,"y":0.166},

{"p":"44","m":"GIST","x":1,"y":0.765},{"p":"44","m":"GIST","x":11,"y":0.926},{"p":"44","m":"GIST","x":21,"y":0.723},{"p":"44","m":"GIST","x":31,"y":0.723},{"p":"44","m":"GIST","x":41,"y":0.952},{"p":"44","m":"GIST","x":51,"y":0.935},{"p":"44","m":"GIST","x":61,"y":0.942},{"p":"44","m":"GIST","x":71,"y":0.926},{"p":"44","m":"GIST","x":81,"y":0.916},{"p":"44","m":"GIST","x":91,"y":0.91},{"p":"44","m":"GIST","x":101,"y":0.894},
{"p":"44","m":"BoF","x":1,"y":0.935},{"p":"44","m":"BoF","x":11,"y":0.974},{"p":"44","m":"BoF","x":21,"y":1.006},{"p":"44","m":"BoF","x":31,"y":1.36},{"p":"44","m":"BoF","x":41,"y":1.297},{"p":"44","m":"BoF","x":51,"y":1.32},{"p":"44","m":"BoF","x":61,"y":1.313},{"p":"44","m":"BoF","x":71,"y":1.40},{"p":"44","m":"BoF","x":81,"y":1.416},{"p":"44","m":"BoF","x":91,"y":1.339},{"p":"44","m":"BoF","x":101,"y":1.435},
{"p":"44","m":"PCAcc","x":1,"y":1.194},{"p":"44","m":"PCAcc","x":11,"y":1.126},{"p":"44","m":"PCAcc","x":21,"y":1.142},{"p":"44","m":"PCAcc","x":31,"y":1.152},{"p":"44","m":"PCAcc","x":41,"y":1.232},{"p":"44","m":"PCAcc","x":51,"y":1.152},{"p":"44","m":"PCAcc","x":61,"y":1.223},{"p":"44","m":"PCAcc","x":71,"y":1.242},{"p":"44","m":"PCAcc","x":81,"y":1.126},{"p":"44","m":"PCAcc","x":91,"y":1.152},{"p":"44","m":"PCAcc","x":101,"y":1.345},
{"p":"44","m":"Dbrief","x":1,"y":0.232},{"p":"44","m":"Dbrief","x":11,"y":0.142},{"p":"44","m":"Dbrief","x":21,"y":0.265},{"p":"44","m":"Dbrief","x":31,"y":0.694},{"p":"44","m":"Dbrief","x":41,"y":0.997},{"p":"44","m":"Dbrief","x":51,"y":0.997},{"p":"44","m":"Dbrief","x":61,"y":1.094},{"p":"44","m":"Dbrief","x":71,"y":0.99},{"p":"44","m":"Dbrief","x":81,"y":1.006},{"p":"44","m":"Dbrief","x":91,"y":1.045},{"p":"44","m":"Dbrief","x":101,"y":1.006},
{"p":"44","m":"Ours","x":1,"y":0.232},{"p":"44","m":"Ours","x":11,"y":0.232},{"p":"44","m":"Ours","x":21,"y":0.21},{"p":"44","m":"Ours","x":31,"y":0.194},{"p":"44","m":"Ours","x":41,"y":0.21},{"p":"44","m":"Ours","x":51,"y":0.242},{"p":"44","m":"Ours","x":61,"y":0.226},{"p":"44","m":"Ours","x":71,"y":0.232},{"p":"44","m":"Ours","x":81,"y":0.242},{"p":"44","m":"Ours","x":91,"y":0.265},{"p":"44","m":"Ours","x":101,"y":0.313}
]},
"config": {
  "view": {"stroke": "black", "strokeWidth": 1},
  "font": "Liberation Sans",
  "axis": {"grid": false, "domainColor": "black", "tickColor": "black", "labelColor": "#222222", "titleColor": "black", "labelFont": "Liberation Sans", "titleFont": "Liberation Sans", "titleFontWeight": "normal", "labelFlush": false, "labelOverlap": false, "tickSize": -4, "labelPadding": 8},
  "axisX": {"labelFontSize": 11.5, "titleFontSize": 14.5, "titlePadding": 1, "labelPadding": 5},
  "axisY": {"labelFontSize": 11, "titleFontSize": 14.5, "titlePadding": 3},
  "title": {"font": "Liberation Serif", "fontWeight": "bold", "fontSize": 27, "color": "black", "frame": "group", "anchor": "middle", "offset": 5},
  "legend": {"orient": "top-left", "offset": 2, "padding": 4, "strokeColor": "black", "fillColor": "white", "cornerRadius": 0, "labelFont": "Liberation Sans", "labelFontSize": 15, "labelColor": "black", "symbolType": "M-1.5,0L1.5,0", "symbolSize": 200, "symbolStrokeWidth": 2, "rowPadding": 2, "labelOffset": 6}
},
"spacing": 8,
"resolve": {"scale": {"color": "independent", "strokeDash": "independent"}, "legend": {"color": "independent", "strokeDash": "independent"}},
"vconcat": [
{
 "title": {"text": "Caltech", "orient": "left", "fontSize": 26, "offset": 30, "frame": "bounds", "dx": -14},
 "bounds": "flush", "spacing": 70,
 "resolve": {"scale": {"color": "independent", "strokeDash": "independent"}, "legend": {"color": "independent", "strokeDash": "independent"}},
 "hconcat": [
  {"width": 249, "height": 155, "title": "Size reduction", "transform": [{"filter": "datum.p === '11'"}],
   "encoding": {"x": {"field": "x", "type": "quantitative", "scale": {"type": "log", "domain": [10, 160], "reverse": true, "nice": false}, "axis": {"values": [100, 50, 25, 10], "format": "d", "title": "Image width (pixels)"}},
                "y": {"field": "y", "type": "quantitative", "scale": {"domain": [0, 1], "nice": false, "zero": false}, "axis": {"values": [0, 0.2, 0.4, 0.6, 0.8, 1], "format": "~g", "title": "Median rotation error"}}},
   "layer": [
    {"mark": {"type": "line", "strokeWidth": 2.2, "clip": true}, "encoding": {"color": {"field": "m", "type": "nominal", "scale": {"domain": ["GIST","BoF","PCAcc","Dbrief","Ours"], "range": ["#22dd22","#ff0000","#0000ff","#ffaa66","#000000"]}, "legend": null}, "strokeDash": {"field": "m", "type": "nominal", "scale": {"domain": ["GIST","BoF","PCAcc","Dbrief","Ours"], "range": [[5,3],[6,3,1.5,3],[7,3,1.5,3],[1,0],[1,0]]}, "legend": null}}},
    {"transform": [{"filter": "datum.m === 'PCAcc' || datum.m === 'Dbrief'"}], "mark": {"type": "point", "filled": true, "size": 32, "opacity": 1, "clip": true}, "encoding": {"color": {"field": "m", "type": "nominal", "scale": {"domain": ["GIST","BoF","PCAcc","Dbrief","Ours"], "range": ["#22dd22","#ff0000","#0000ff","#ffaa66","#000000"]}, "legend": null}}}
   ]},
  {"width": 249, "height": 155, "title": "Size reduction", "transform": [{"filter": "datum.p === '12'"}],
   "encoding": {"x": {"field": "x", "type": "quantitative", "scale": {"type": "log", "domain": [10, 160], "reverse": true, "nice": false}, "axis": {"values": [100, 50, 25, 10], "format": "d", "title": "Image width (pixels)"}},
                "y": {"field": "y", "type": "quantitative", "scale": {"domain": [0, 1.5], "nice": false, "zero": false}, "axis": {"values": [0, 0.5, 1, 1.5], "format": "~g", "title": "Median translation error"}}},
   "layer": [
    {"mark": {"type": "line", "strokeWidth": 2.2, "clip": true}, "encoding": {"color": {"field": "m", "type": "nominal", "scale": {"domain": ["GIST","BoF","PCAcc","Dbrief","Ours"], "range": ["#22dd22","#ff0000","#0000ff","#ffaa66","#000000"]}, "legend": null}, "strokeDash": {"field": "m", "type": "nominal", "scale": {"domain": ["GIST","BoF","PCAcc","Dbrief","Ours"], "range": [[5,3],[6,3,1.5,3],[7,3,1.5,3],[1,0],[1,0]]}, "legend": null}}},
    {"transform": [{"filter": "datum.m === 'PCAcc' || datum.m === 'Dbrief'"}], "mark": {"type": "point", "filled": true, "size": 32, "opacity": 1, "clip": true}, "encoding": {"color": {"field": "m", "type": "nominal", "scale": {"domain": ["GIST","BoF","PCAcc","Dbrief","Ours"], "range": ["#22dd22","#ff0000","#0000ff","#ffaa66","#000000"]}, "legend": null}}}
   ]},
  {"width": 249, "height": 155, "title": "Motion Blur", "transform": [{"filter": "datum.p === '13'"}],
   "encoding": {"x": {"field": "x", "type": "quantitative", "scale": {"domain": [1, 101], "nice": false, "zero": false}, "axis": {"values": [1, 11, 21, 31, 41, 51, 61, 71, 81, 91, 101], "format": "d", "title": "Size of blurring disc (pixels)"}},
                "y": {"field": "y", "type": "quantitative", "scale": {"domain": [0, 1], "nice": false, "zero": false}, "axis": {"values": [0, 0.2, 0.4, 0.6, 0.8, 1], "format": "~g", "title": "Median rotation error"}}},
   "layer": [
    {"mark": {"type": "line", "strokeWidth": 2.2, "clip": true}, "encoding": {"color": {"field": "m", "type": "nominal", "scale": {"domain": ["GIST","BoF","PCAcc","Dbrief","Ours"], "range": ["#22dd22","#ff0000","#0000ff","#ffaa66","#000000"]}, "legend": null}, "strokeDash": {"field": "m", "type": "nominal", "scale": {"domain": ["GIST","BoF","PCAcc","Dbrief","Ours"], "range": [[5,3],[6,3,1.5,3],[7,3,1.5,3],[1,0],[1,0]]}, "legend": null}}},
    {"transform": [{"filter": "datum.m === 'PCAcc' || datum.m === 'Dbrief'"}], "mark": {"type": "point", "filled": true, "size": 32, "opacity": 1, "clip": true}, "encoding": {"color": {"field": "m", "type": "nominal", "scale": {"domain": ["GIST","BoF","PCAcc","Dbrief","Ours"], "range": ["#22dd22","#ff0000","#0000ff","#ffaa66","#000000"]}, "legend": null}}}
   ]},
  {"width": 249, "height": 155, "title": "Motion Blur", "transform": [{"filter": "datum.p === '14'"}],
   "encoding": {"x": {"field": "x", "type": "quantitative", "scale": {"domain": [1, 101], "nice": false, "zero": false}, "axis": {"values": [1, 11, 21, 31, 41, 51, 61, 71, 81, 91, 101], "format": "d", "title": "Size of blurring disc (pixels)"}},
                "y": {"field": "y", "type": "quantitative", "scale": {"domain": [0, 1.5], "nice": false, "zero": false}, "axis": {"values": [0, 0.5, 1, 1.5], "format": "~g", "title": "Median translation error"}}},
   "layer": [
    {"mark": {"type": "line", "strokeWidth": 2.2, "clip": true}, "encoding": {"color": {"field": "m", "type": "nominal", "scale": {"domain": ["GIST","BoF","PCAcc","Dbrief","Ours"], "range": ["#22dd22","#ff0000","#0000ff","#ffaa66","#000000"]}, "legend": null}, "strokeDash": {"field": "m", "type": "nominal", "scale": {"domain": ["GIST","BoF","PCAcc","Dbrief","Ours"], "range": [[5,3],[6,3,1.5,3],[7,3,1.5,3],[1,0],[1,0]]}, "legend": null}}},
    {"transform": [{"filter": "datum.m === 'PCAcc' || datum.m === 'Dbrief'"}], "mark": {"type": "point", "filled": true, "size": 32, "opacity": 1, "clip": true}, "encoding": {"color": {"field": "m", "type": "nominal", "scale": {"domain": ["GIST","BoF","PCAcc","Dbrief","Ours"], "range": ["#22dd22","#ff0000","#0000ff","#ffaa66","#000000"]}, "legend": null}}}
   ]}
 ]
},
{
 "title": {"text": "Cars", "orient": "left", "fontSize": 26, "offset": 30, "frame": "bounds"},
 "bounds": "flush", "spacing": 70,
 "resolve": {"scale": {"color": "independent", "strokeDash": "independent"}, "legend": {"color": "independent", "strokeDash": "independent"}},
 "hconcat": [
  {"width": 249, "height": 155, "transform": [{"filter": "datum.p === '21'"}],
   "encoding": {"x": {"field": "x", "type": "quantitative", "scale": {"type": "log", "domain": [10, 160], "reverse": true, "nice": false}, "axis": {"values": [100, 50, 25, 10], "format": "d", "title": "Image width (pixels)"}},
                "y": {"field": "y", "type": "quantitative", "scale": {"domain": [0, 1], "nice": false, "zero": false}, "axis": {"values": [0, 0.2, 0.4, 0.6, 0.8, 1], "format": "~g", "title": "Median rotation error"}}},
   "layer": [
    {"mark": {"type": "line", "strokeWidth": 2.2, "clip": true}, "encoding": {"color": {"field": "m", "type": "nominal", "scale": {"domain": ["GIST","BoF","PCAcc","Dbrief","Ours"], "range": ["#22dd22","#ff0000","#0000ff","#ffaa66","#000000"]}, "legend": {"title": null}}, "strokeDash": {"field": "m", "type": "nominal", "scale": {"domain": ["GIST","BoF","PCAcc","Dbrief","Ours"], "range": [[5,3],[6,3,1.5,3],[7,3,1.5,3],[1,0],[1,0]]}, "legend": {"title": null}}}},
    {"transform": [{"filter": "datum.m === 'PCAcc' || datum.m === 'Dbrief'"}], "mark": {"type": "point", "filled": true, "size": 32, "opacity": 1, "clip": true}, "encoding": {"color": {"field": "m", "type": "nominal", "scale": {"domain": ["GIST","BoF","PCAcc","Dbrief","Ours"], "range": ["#22dd22","#ff0000","#0000ff","#ffaa66","#000000"]}, "legend": null}}}
   ]},
  {"width": 249, "height": 155, "transform": [{"filter": "datum.p === '22'"}],
   "encoding": {"x": {"field": "x", "type": "quantitative", "scale": {"type": "log", "domain": [10, 160], "reverse": true, "nice": false}, "axis": {"values": [100, 50, 25, 10], "format": "d", "title": "Image width (pixels)"}},
                "y": {"field": "y", "type": "quantitative", "scale": {"domain": [0, 1.5], "nice": false, "zero": false}, "axis": {"values": [0, 0.5, 1, 1.5], "format": "~g", "title": "Median translation error"}}},
   "layer": [
    {"mark": {"type": "line", "strokeWidth": 2.2, "clip": true}, "encoding": {"color": {"field": "m", "type": "nominal", "scale": {"domain": ["GIST","BoF","PCAcc","Dbrief","Ours"], "range": ["#22dd22","#ff0000","#0000ff","#ffaa66","#000000"]}, "legend": null}, "strokeDash": {"field": "m", "type": "nominal", "scale": {"domain": ["GIST","BoF","PCAcc","Dbrief","Ours"], "range": [[5,3],[6,3,1.5,3],[7,3,1.5,3],[1,0],[1,0]]}, "legend": null}}},
    {"transform": [{"filter": "datum.m === 'PCAcc' || datum.m === 'Dbrief'"}], "mark": {"type": "point", "filled": true, "size": 32, "opacity": 1, "clip": true}, "encoding": {"color": {"field": "m", "type": "nominal", "scale": {"domain": ["GIST","BoF","PCAcc","Dbrief","Ours"], "range": ["#22dd22","#ff0000","#0000ff","#ffaa66","#000000"]}, "legend": null}}}
   ]},
  {"width": 249, "height": 155, "transform": [{"filter": "datum.p === '23'"}],
   "encoding": {"x": {"field": "x", "type": "quantitative", "scale": {"domain": [1, 101], "nice": false, "zero": false}, "axis": {"values": [1, 11, 21, 31, 41, 51, 61, 71, 81, 91, 101], "format": "d", "title": "Size of blurring disc (pixels)"}},
                "y": {"field": "y", "type": "quantitative", "scale": {"domain": [0, 1], "nice": false, "zero": false}, "axis": {"values": [0, 0.2, 0.4, 0.6, 0.8, 1], "format": "~g", "title": "Median rotation error"}}},
   "layer": [
    {"mark": {"type": "line", "strokeWidth": 2.2, "clip": true}, "encoding": {"color": {"field": "m", "type": "nominal", "scale": {"domain": ["GIST","BoF","PCAcc","Dbrief","Ours"], "range": ["#22dd22","#ff0000","#0000ff","#ffaa66","#000000"]}, "legend": null}, "strokeDash": {"field": "m", "type": "nominal", "scale": {"domain": ["GIST","BoF","PCAcc","Dbrief","Ours"], "range": [[5,3],[6,3,1.5,3],[7,3,1.5,3],[1,0],[1,0]]}, "legend": null}}},
    {"transform": [{"filter": "datum.m === 'PCAcc' || datum.m === 'Dbrief'"}], "mark": {"type": "point", "filled": true, "size": 32, "opacity": 1, "clip": true}, "encoding": {"color": {"field": "m", "type": "nominal", "scale": {"domain": ["GIST","BoF","PCAcc","Dbrief","Ours"], "range": ["#22dd22","#ff0000","#0000ff","#ffaa66","#000000"]}, "legend": null}}}
   ]},
  {"width": 249, "height": 155, "transform": [{"filter": "datum.p === '24'"}],
   "encoding": {"x": {"field": "x", "type": "quantitative", "scale": {"domain": [1, 101], "nice": false, "zero": false}, "axis": {"values": [1, 11, 21, 31, 41, 51, 61, 71, 81, 91, 101], "format": "d", "title": "Size of blurring disc (pixels)"}},
                "y": {"field": "y", "type": "quantitative", "scale": {"domain": [0, 1.5], "nice": false, "zero": false}, "axis": {"values": [0, 0.5, 1, 1.5], "format": "~g", "title": "Median translation error"}}},
   "layer": [
    {"mark": {"type": "line", "strokeWidth": 2.2, "clip": true}, "encoding": {"color": {"field": "m", "type": "nominal", "scale": {"domain": ["GIST","BoF","PCAcc","Dbrief","Ours"], "range": ["#22dd22","#ff0000","#0000ff","#ffaa66","#000000"]}, "legend": null}, "strokeDash": {"field": "m", "type": "nominal", "scale": {"domain": ["GIST","BoF","PCAcc","Dbrief","Ours"], "range": [[5,3],[6,3,1.5,3],[7,3,1.5,3],[1,0],[1,0]]}, "legend": null}}},
    {"transform": [{"filter": "datum.m === 'PCAcc' || datum.m === 'Dbrief'"}], "mark": {"type": "point", "filled": true, "size": 32, "opacity": 1, "clip": true}, "encoding": {"color": {"field": "m", "type": "nominal", "scale": {"domain": ["GIST","BoF","PCAcc","Dbrief","Ours"], "range": ["#22dd22","#ff0000","#0000ff","#ffaa66","#000000"]}, "legend": null}}}
   ]}
 ]
},
{
 "title": {"text": "Sagrada Familia", "orient": "left", "fontSize": 26, "offset": 30, "frame": "bounds"},
 "bounds": "flush", "spacing": 70,
 "resolve": {"scale": {"color": "independent", "strokeDash": "independent"}, "legend": {"color": "independent", "strokeDash": "independent"}},
 "hconcat": [
  {"width": 249, "height": 155, "transform": [{"filter": "datum.p === '31'"}],
   "encoding": {"x": {"field": "x", "type": "quantitative", "scale": {"type": "log", "domain": [10, 120], "reverse": true, "nice": false}, "axis": {"values": [100, 50, 25, 10], "format": "d", "title": "Image width (pixels)"}},
                "y": {"field": "y", "type": "quantitative", "scale": {"domain": [0, 1], "nice": false, "zero": false}, "axis": {"values": [0, 0.2, 0.4, 0.6, 0.8, 1], "format": "~g", "title": "Median rotation error"}}},
   "layer": [
    {"mark": {"type": "line", "strokeWidth": 2.2, "clip": true}, "encoding": {"color": {"field": "m", "type": "nominal", "scale": {"domain": ["GIST","BoF","PCAcc","Dbrief","Ours"], "range": ["#22dd22","#ff0000","#0000ff","#ffaa66","#000000"]}, "legend": null}, "strokeDash": {"field": "m", "type": "nominal", "scale": {"domain": ["GIST","BoF","PCAcc","Dbrief","Ours"], "range": [[5,3],[6,3,1.5,3],[7,3,1.5,3],[1,0],[1,0]]}, "legend": null}}},
    {"transform": [{"filter": "datum.m === 'PCAcc' || datum.m === 'Dbrief'"}], "mark": {"type": "point", "filled": true, "size": 32, "opacity": 1, "clip": true}, "encoding": {"color": {"field": "m", "type": "nominal", "scale": {"domain": ["GIST","BoF","PCAcc","Dbrief","Ours"], "range": ["#22dd22","#ff0000","#0000ff","#ffaa66","#000000"]}, "legend": null}}}
   ]},
  {"width": 249, "height": 155, "transform": [{"filter": "datum.p === '32'"}],
   "encoding": {"x": {"field": "x", "type": "quantitative", "scale": {"type": "log", "domain": [10, 120], "reverse": true, "nice": false}, "axis": {"values": [100, 50, 25, 10], "format": "d", "title": "Image width (pixels)"}},
                "y": {"field": "y", "type": "quantitative", "scale": {"domain": [0, 1.5], "nice": false, "zero": false}, "axis": {"values": [0, 0.5, 1, 1.5], "format": "~g", "title": "Median translation error"}}},
   "layer": [
    {"mark": {"type": "line", "strokeWidth": 2.2, "clip": true}, "encoding": {"color": {"field": "m", "type": "nominal", "scale": {"domain": ["GIST","BoF","PCAcc","Dbrief","Ours"], "range": ["#22dd22","#ff0000","#0000ff","#ffaa66","#000000"]}, "legend": null}, "strokeDash": {"field": "m", "type": "nominal", "scale": {"domain": ["GIST","BoF","PCAcc","Dbrief","Ours"], "range": [[5,3],[6,3,1.5,3],[7,3,1.5,3],[1,0],[1,0]]}, "legend": null}}},
    {"transform": [{"filter": "datum.m === 'PCAcc' || datum.m === 'Dbrief'"}], "mark": {"type": "point", "filled": true, "size": 32, "opacity": 1, "clip": true}, "encoding": {"color": {"field": "m", "type": "nominal", "scale": {"domain": ["GIST","BoF","PCAcc","Dbrief","Ours"], "range": ["#22dd22","#ff0000","#0000ff","#ffaa66","#000000"]}, "legend": null}}}
   ]},
  {"width": 249, "height": 155, "transform": [{"filter": "datum.p === '33'"}],
   "encoding": {"x": {"field": "x", "type": "quantitative", "scale": {"domain": [1, 101], "nice": false, "zero": false}, "axis": {"values": [1, 11, 21, 31, 41, 51, 61, 71, 81, 91, 101], "format": "d", "title": "Size of blurring disc (pixels)"}},
                "y": {"field": "y", "type": "quantitative", "scale": {"domain": [0, 1], "nice": false, "zero": false}, "axis": {"values": [0, 0.2, 0.4, 0.6, 0.8, 1], "format": "~g", "title": "Median rotation error"}}},
   "layer": [
    {"mark": {"type": "line", "strokeWidth": 2.2, "clip": true}, "encoding": {"color": {"field": "m", "type": "nominal", "scale": {"domain": ["GIST","BoF","PCAcc","Dbrief","Ours"], "range": ["#22dd22","#ff0000","#0000ff","#ffaa66","#000000"]}, "legend": null}, "strokeDash": {"field": "m", "type": "nominal", "scale": {"domain": ["GIST","BoF","PCAcc","Dbrief","Ours"], "range": [[5,3],[6,3,1.5,3],[7,3,1.5,3],[1,0],[1,0]]}, "legend": null}}},
    {"transform": [{"filter": "datum.m === 'PCAcc' || datum.m === 'Dbrief'"}], "mark": {"type": "point", "filled": true, "size": 32, "opacity": 1, "clip": true}, "encoding": {"color": {"field": "m", "type": "nominal", "scale": {"domain": ["GIST","BoF","PCAcc","Dbrief","Ours"], "range": ["#22dd22","#ff0000","#0000ff","#ffaa66","#000000"]}, "legend": null}}}
   ]},
  {"width": 249, "height": 155, "transform": [{"filter": "datum.p === '34'"}],
   "encoding": {"x": {"field": "x", "type": "quantitative", "scale": {"domain": [1, 101], "nice": false, "zero": false}, "axis": {"values": [1, 11, 21, 31, 41, 51, 61, 71, 81, 91, 101], "format": "d", "title": "Size of blurring disc (pixels)"}},
                "y": {"field": "y", "type": "quantitative", "scale": {"domain": [0, 1.5], "nice": false, "zero": false}, "axis": {"values": [0, 0.5, 1, 1.5], "format": "~g", "title": "Median translation error"}}},
   "layer": [
    {"mark": {"type": "line", "strokeWidth": 2.2, "clip": true}, "encoding": {"color": {"field": "m", "type": "nominal", "scale": {"domain": ["GIST","BoF","PCAcc","Dbrief","Ours"], "range": ["#22dd22","#ff0000","#0000ff","#ffaa66","#000000"]}, "legend": null}, "strokeDash": {"field": "m", "type": "nominal", "scale": {"domain": ["GIST","BoF","PCAcc","Dbrief","Ours"], "range": [[5,3],[6,3,1.5,3],[7,3,1.5,3],[1,0],[1,0]]}, "legend": null}}},
    {"transform": [{"filter": "datum.m === 'PCAcc' || datum.m === 'Dbrief'"}], "mark": {"type": "point", "filled": true, "size": 32, "opacity": 1, "clip": true}, "encoding": {"color": {"field": "m", "type": "nominal", "scale": {"domain": ["GIST","BoF","PCAcc","Dbrief","Ours"], "range": ["#22dd22","#ff0000","#0000ff","#ffaa66","#000000"]}, "legend": null}}}
   ]}
 ]
},
{
 "title": {"text": "F1 scene", "orient": "left", "fontSize": 26, "offset": 30, "frame": "bounds"},
 "bounds": "flush", "spacing": 70,
 "resolve": {"scale": {"color": "independent", "strokeDash": "independent"}, "legend": {"color": "independent", "strokeDash": "independent"}},
 "hconcat": [
  {"width": 249, "height": 155, "transform": [{"filter": "datum.p === '41'"}],
   "encoding": {"x": {"field": "x", "type": "quantitative", "scale": {"type": "log", "domain": [10, 160], "reverse": true, "nice": false}, "axis": {"values": [100, 50, 25, 10], "format": "d", "title": "Image width (pixels)"}},
                "y": {"field": "y", "type": "quantitative", "scale": {"domain": [0, 1], "nice": false, "zero": false}, "axis": {"values": [0, 0.2, 0.4, 0.6, 0.8, 1], "format": "~g", "title": "Median rotation error"}}},
   "layer": [
    {"mark": {"type": "line", "strokeWidth": 2.2, "clip": true}, "encoding": {"color": {"field": "m", "type": "nominal", "scale": {"domain": ["GIST","BoF","PCAcc","Dbrief","Ours"], "range": ["#22dd22","#ff0000","#0000ff","#ffaa66","#000000"]}, "legend": null}, "strokeDash": {"field": "m", "type": "nominal", "scale": {"domain": ["GIST","BoF","PCAcc","Dbrief","Ours"], "range": [[5,3],[6,3,1.5,3],[7,3,1.5,3],[1,0],[1,0]]}, "legend": null}}},
    {"transform": [{"filter": "datum.m === 'PCAcc' || datum.m === 'Dbrief'"}], "mark": {"type": "point", "filled": true, "size": 32, "opacity": 1, "clip": true}, "encoding": {"color": {"field": "m", "type": "nominal", "scale": {"domain": ["GIST","BoF","PCAcc","Dbrief","Ours"], "range": ["#22dd22","#ff0000","#0000ff","#ffaa66","#000000"]}, "legend": null}}}
   ]},
  {"width": 249, "height": 155, "transform": [{"filter": "datum.p === '42'"}],
   "encoding": {"x": {"field": "x", "type": "quantitative", "scale": {"type": "log", "domain": [10, 160], "reverse": true, "nice": false}, "axis": {"values": [100, 50, 25, 10], "format": "d", "title": "Image width (pixels)"}},
                "y": {"field": "y", "type": "quantitative", "scale": {"domain": [0, 1.5], "nice": false, "zero": false}, "axis": {"values": [0, 0.5, 1, 1.5], "format": "~g", "title": "Median translation error"}}},
   "layer": [
    {"mark": {"type": "line", "strokeWidth": 2.2, "clip": true}, "encoding": {"color": {"field": "m", "type": "nominal", "scale": {"domain": ["GIST","BoF","PCAcc","Dbrief","Ours"], "range": ["#22dd22","#ff0000","#0000ff","#ffaa66","#000000"]}, "legend": null}, "strokeDash": {"field": "m", "type": "nominal", "scale": {"domain": ["GIST","BoF","PCAcc","Dbrief","Ours"], "range": [[5,3],[6,3,1.5,3],[7,3,1.5,3],[1,0],[1,0]]}, "legend": null}}},
    {"transform": [{"filter": "datum.m === 'PCAcc' || datum.m === 'Dbrief'"}], "mark": {"type": "point", "filled": true, "size": 32, "opacity": 1, "clip": true}, "encoding": {"color": {"field": "m", "type": "nominal", "scale": {"domain": ["GIST","BoF","PCAcc","Dbrief","Ours"], "range": ["#22dd22","#ff0000","#0000ff","#ffaa66","#000000"]}, "legend": null}}}
   ]},
  {"width": 249, "height": 155, "transform": [{"filter": "datum.p === '43'"}],
   "encoding": {"x": {"field": "x", "type": "quantitative", "scale": {"domain": [1, 101], "nice": false, "zero": false}, "axis": {"values": [1, 11, 21, 31, 41, 51, 61, 71, 81, 91, 101], "format": "d", "title": "Size of blurring disc (pixels)"}},
                "y": {"field": "y", "type": "quantitative", "scale": {"domain": [0, 1], "nice": false, "zero": false}, "axis": {"values": [0, 0.2, 0.4, 0.6, 0.8, 1], "format": "~g", "title": "Median rotation error"}}},
   "layer": [
    {"mark": {"type": "line", "strokeWidth": 2.2, "clip": true}, "encoding": {"color": {"field": "m", "type": "nominal", "scale": {"domain": ["GIST","BoF","PCAcc","Dbrief","Ours"], "range": ["#22dd22","#ff0000","#0000ff","#ffaa66","#000000"]}, "legend": null}, "strokeDash": {"field": "m", "type": "nominal", "scale": {"domain": ["GIST","BoF","PCAcc","Dbrief","Ours"], "range": [[5,3],[6,3,1.5,3],[7,3,1.5,3],[1,0],[1,0]]}, "legend": null}}},
    {"transform": [{"filter": "datum.m === 'PCAcc' || datum.m === 'Dbrief'"}], "mark": {"type": "point", "filled": true, "size": 32, "opacity": 1, "clip": true}, "encoding": {"color": {"field": "m", "type": "nominal", "scale": {"domain": ["GIST","BoF","PCAcc","Dbrief","Ours"], "range": ["#22dd22","#ff0000","#0000ff","#ffaa66","#000000"]}, "legend": null}}}
   ]},
  {"width": 249, "height": 155, "transform": [{"filter": "datum.p === '44'"}],
   "encoding": {"x": {"field": "x", "type": "quantitative", "scale": {"domain": [1, 101], "nice": false, "zero": false}, "axis": {"values": [1, 11, 21, 31, 41, 51, 61, 71, 81, 91, 101], "format": "d", "title": "Size of blurring disc (pixels)"}},
                "y": {"field": "y", "type": "quantitative", "scale": {"domain": [0, 1.5], "nice": false, "zero": false}, "axis": {"values": [0, 0.5, 1, 1.5], "format": "~g", "title": "Median translation error"}}},
   "layer": [
    {"mark": {"type": "line", "strokeWidth": 2.2, "clip": true}, "encoding": {"color": {"field": "m", "type": "nominal", "scale": {"domain": ["GIST","BoF","PCAcc","Dbrief","Ours"], "range": ["#22dd22","#ff0000","#0000ff","#ffaa66","#000000"]}, "legend": null}, "strokeDash": {"field": "m", "type": "nominal", "scale": {"domain": ["GIST","BoF","PCAcc","Dbrief","Ours"], "range": [[5,3],[6,3,1.5,3],[7,3,1.5,3],[1,0],[1,0]]}, "legend": null}}},
    {"transform": [{"filter": "datum.m === 'PCAcc' || datum.m === 'Dbrief'"}], "mark": {"type": "point", "filled": true, "size": 32, "opacity": 1, "clip": true}, "encoding": {"color": {"field": "m", "type": "nominal", "scale": {"domain": ["GIST","BoF","PCAcc","Dbrief","Ours"], "range": ["#22dd22","#ff0000","#0000ff","#ffaa66","#000000"]}, "legend": null}}}
   ]}
 ]
}
]
}
